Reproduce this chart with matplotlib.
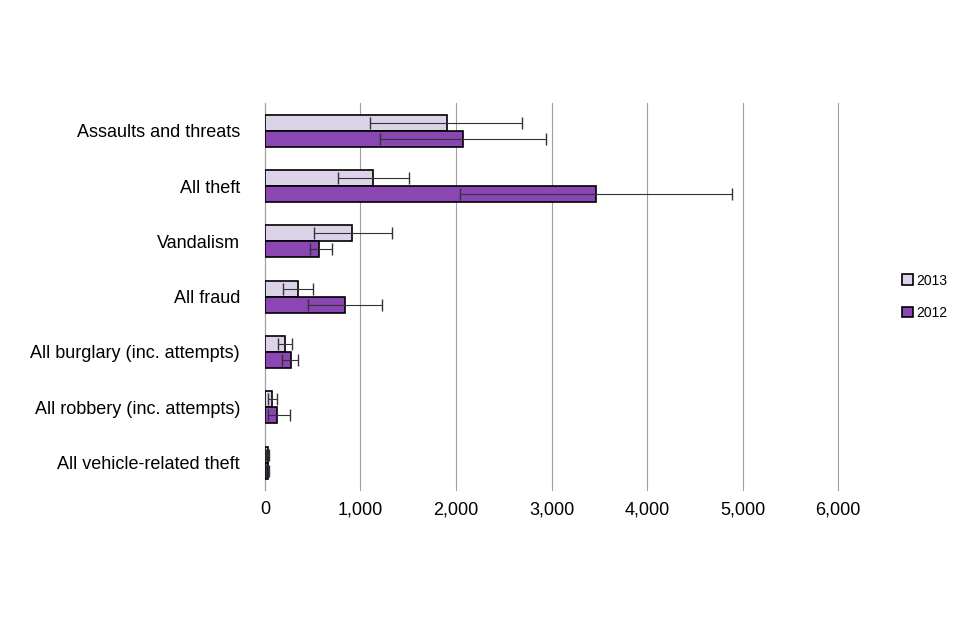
import numpy as np
import matplotlib.pyplot as plt

plt.rcParams['font.family'] = 'Liberation Sans'

categories = ['Assaults and threats', 'All theft', 'Vandalism', 'All fraud',
              'All burglary (inc. attempts)', 'All robbery (inc. attempts)',
              'All vehicle-related theft']
v2013 = [1906, 1130, 910, 345, 210, 70, 30]
lo2013 = [1100, 760, 510, 190, 135, 30, 15]
hi2013 = [2690, 1510, 1330, 500, 280, 125, 45]
v2012 = [2070, 3470, 565, 840, 270, 125, 30]
lo2012 = [1200, 2040, 470, 450, 180, 30, 15]
hi2012 = [2940, 4890, 700, 1225, 345, 260, 45]

fig = plt.figure(figsize=(9.6, 6.4), dpi=100)
ax = fig.add_axes([0.276, 0.234, 0.597, 0.605])

y = np.arange(len(categories))
h = 0.29
err13 = [np.array(v2013) - np.array(lo2013), np.array(hi2013) - np.array(v2013)]
err12 = [np.array(v2012) - np.array(lo2012), np.array(hi2012) - np.array(v2012)]
ax.barh(y - h / 2, v2013, h, color='#dcd3e8', edgecolor='black', linewidth=1.2,
        xerr=err13, error_kw=dict(ecolor='#333333', elinewidth=0.8, capsize=4),
        label='2013', zorder=3)
ax.barh(y + h / 2, v2012, h, color='#8a46b2', edgecolor='black', linewidth=1.2,
        xerr=err12, error_kw=dict(ecolor='#333333', elinewidth=0.8, capsize=4),
        label='2012', zorder=3)

ax.set_xlim(0, 6000)
ax.set_ylim(len(categories) - 0.5, -0.5)
ax.set_xticks(range(0, 6001, 1000))
ax.set_xticklabels([f'{v:,}' for v in range(0, 6001, 1000)], fontsize=13)
ax.set_yticks(y)
ax.set_yticklabels(categories, fontsize=13)
ax.grid(axis='x', color='#a0a0a0', linewidth=0.8, zorder=0)
for s in ['top', 'right', 'bottom']:
    ax.spines[s].set_visible(False)
ax.spines['left'].set_color('#a0a0a0')
ax.tick_params(axis='y', length=0, pad=18)
ax.tick_params(axis='x', length=0, pad=8)
for gl in ax.get_xgridlines():
    gl.set_clip_on(False)

ax.legend(loc='center left', bbox_to_anchor=(1.09, 0.5), frameon=False,
          fontsize=10, handlelength=0.8, handleheight=0.8, labelspacing=1.3,
          handletextpad=0.2)

fig.savefig('out.png', dpi=100)
